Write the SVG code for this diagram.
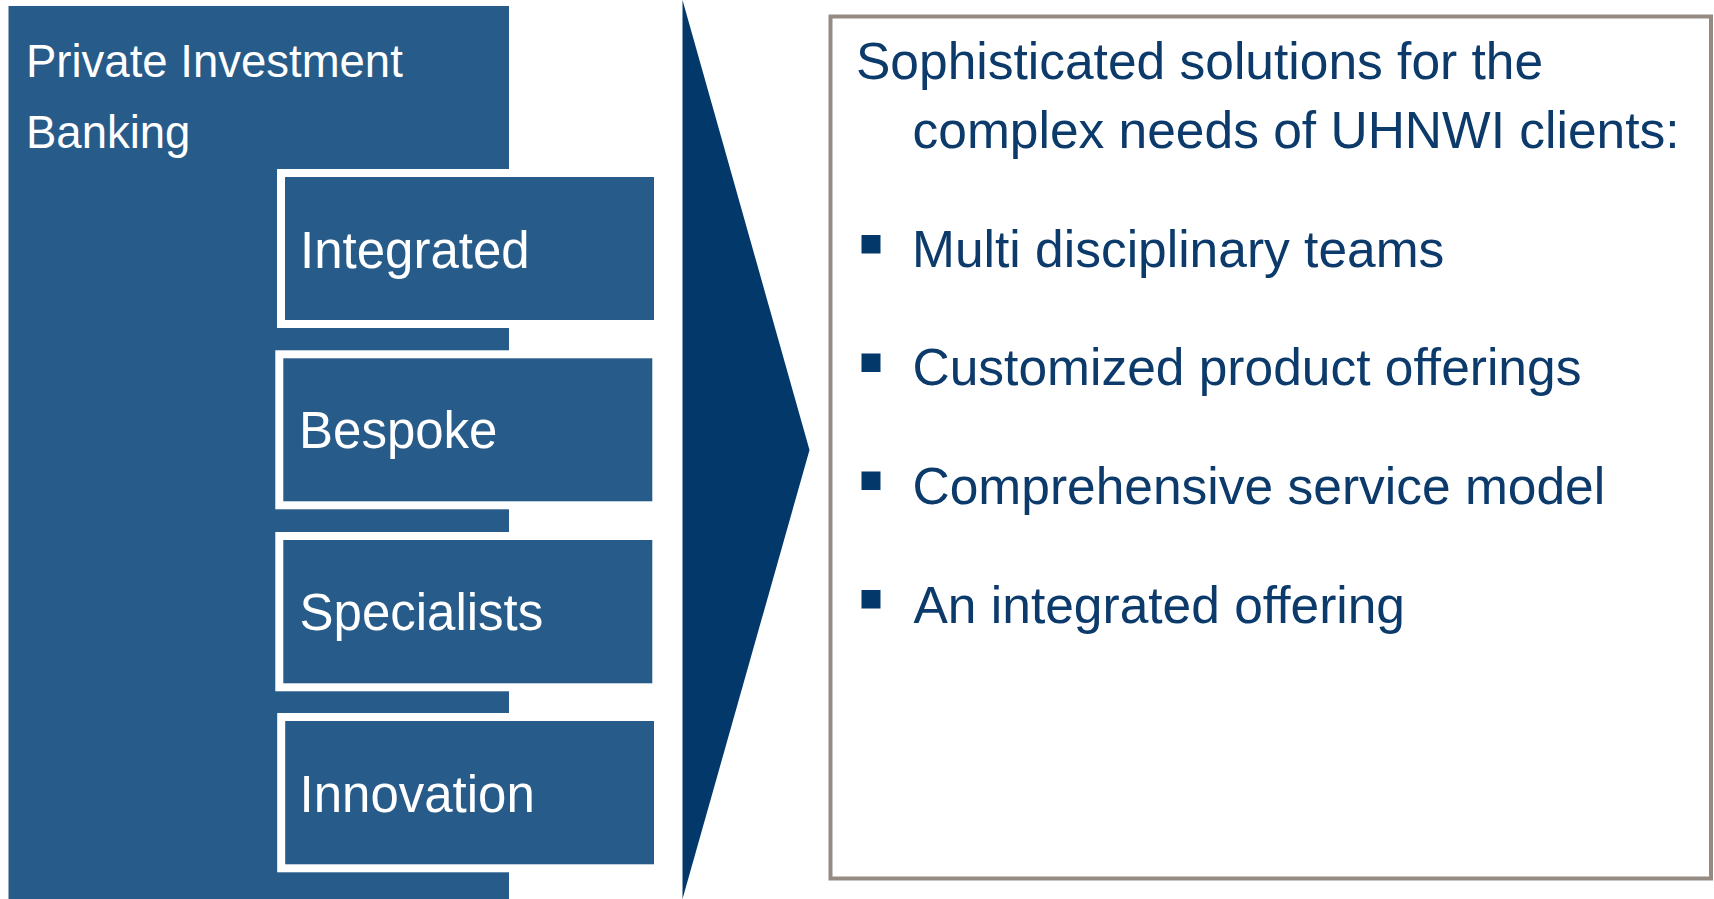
<svg xmlns="http://www.w3.org/2000/svg" width="1714" height="899" viewBox="0 0 1714 899">
  <style>
    .panel { fill: #275B89; }
    .pillar { fill: #275B89; stroke: #FFFFFF; stroke-width: 8; }
    .lbl { font-family: "Liberation Sans", Arial, Helvetica, sans-serif; fill: #FFFFFF; }
    .pillar-lbl { font-size: 51px; }
    .head-lbl { font-size: 45.5px; }
    .body { font-family: "Liberation Sans", Arial, Helvetica, sans-serif; font-size: 51.5px; fill: #0B3A6B; }
    .bullet { fill: #03386A; }
    .frame { fill: #FFFFFF; stroke: #968B83; stroke-width: 4; }
  </style>
  <rect width="1714" height="899" fill="#FFFFFF"/>

  <!-- Private Investment Banking column -->
  <g id="pib">
    <rect class="panel" x="8.5" y="6" width="500.5" height="893"/>
    <text class="lbl head-lbl" x="26" y="77">Private Investment</text>
    <text class="lbl head-lbl" x="26" y="147.5">Banking</text>
  </g>

  <!-- Pillars -->
  <g id="integrated">
    <rect class="pillar" x="281" y="173" width="377" height="151"/>
    <text class="lbl pillar-lbl" x="300" y="267.5">Integrated</text>
  </g>
  <g id="bespoke">
    <rect class="pillar" x="279.3" y="354.3" width="377" height="151"/>
    <text class="lbl pillar-lbl" x="299" y="448.3">Bespoke</text>
  </g>
  <g id="specialists">
    <rect class="pillar" x="279.3" y="536" width="377" height="151.3"/>
    <text class="lbl pillar-lbl" x="299.5" y="630">Specialists</text>
  </g>
  <g id="innovation">
    <rect class="pillar" x="281.2" y="717" width="376.8" height="151.3"/>
    <text class="lbl pillar-lbl" x="299.5" y="812.3">Innovation</text>
  </g>

  <!-- Chevron leading into the solutions panel -->
  <g id="connectors">
    <polygon points="682.5,0 809.5,450 682.5,899" fill="#03386A"/>
  </g>

  <!-- Solutions panel -->
  <g id="solutions">
    <rect class="frame" x="830.5" y="16.5" width="880.5" height="862"/>
    <text class="body" x="856" y="79">Sophisticated solutions for the</text>
    <text class="body" x="912.5" y="148">complex needs of UHNWI clients:</text>

    <rect class="bullet" x="861.5" y="235" width="19" height="18.5"/>
    <text class="body" x="912" y="266.7">Multi disciplinary teams</text>

    <rect class="bullet" x="861.5" y="353.5" width="19" height="18.5"/>
    <text class="body" x="912.5" y="385">Customized product offerings</text>

    <rect class="bullet" x="861.5" y="471.5" width="19" height="18.5"/>
    <text class="body" x="912.5" y="504">Comprehensive service model</text>

    <rect class="bullet" x="861.5" y="590" width="19" height="18.5"/>
    <text class="body" x="913.5" y="622.5">An integrated offering</text>
  </g>
</svg>
